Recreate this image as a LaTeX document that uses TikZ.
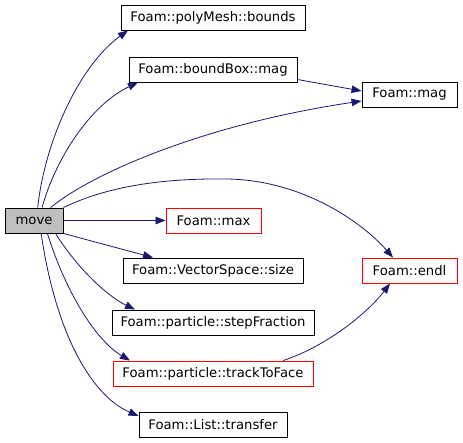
\documentclass[tikz,border=0pt]{standalone}
\usepackage{fontspec}
\setmainfont{DejaVu Sans}
\usepackage{tikz}
\usetikzlibrary{arrows.meta}
\definecolor{edgeblue}{RGB}{25,25,112}
\definecolor{curgray}{RGB}{191,191,191}
\definecolor{linkred}{RGB}{255,0,0}
\tikzset{
  fn/.style={rectangle, draw=black, fill=white, minimum height=25pt,
    inner xsep=2pt, font=\fontsize{13.2}{15}\selectfont, line width=0.9pt},
  redfn/.style={fn, draw=linkred},
  curfn/.style={fn, fill=curgray},
  call/.style={-{Triangle[length=10pt,width=7.5pt]}, color=edgeblue, line width=0.8pt}
}

\begin{document}
\begin{tikzpicture}[x=1pt, y=-1pt]
  \useasboundingbox (0,0) rectangle (463,443);

  % Caller
  \node[curfn, minimum width=58pt] (move) at (34,220.5) {move};

  % First column of callees
  \node[fn, minimum width=184pt] (bounds) at (213,17.5) {Foam::polyMesh::bounds};
  \node[fn, minimum width=168pt] (bbmag) at (213,69.5) {Foam::boundBox::mag};
  \node[redfn, minimum width=95pt] (max) at (213.5,220.5) {Foam::max};
  \node[fn, minimum width=180pt] (vsize) at (213,270.5) {Foam::VectorSpace::size};
  \node[fn, minimum width=202pt] (stepfrac) at (213,322.5) {Foam::particle::stepFraction};
  \node[redfn, minimum width=200pt] (track) at (213,373.5) {Foam::particle::trackToFace};
  \node[fn, minimum width=148pt] (transfer) at (213,424.5) {Foam::List::transfer};

  % Second column of callees
  \node[fn, minimum width=95pt] (mag) at (409.5,94.5) {Foam::mag};
  \node[redfn, minimum width=95pt] (endl) at (409.5,270.5) {Foam::endl};

  % Calls out of move
  \draw[call] (move.74) .. controls (45,140) and (80,65) .. ([xshift=-85pt]bounds.south);
  \draw[call] (move.58) .. controls (55,160) and (90,105) .. ([xshift=-75pt]bbmag.south);
  \draw[call] (move.38) .. controls (90,175) and (200,125) .. ([yshift=-6.5pt]mag.west);
  \draw[call] (move.north east) .. controls (100,190) and (150,178) .. (227,179)
    .. controls (300,180) and (360,220) .. ([xshift=-16.5pt]endl.north);
  \draw[call] (move.east) -- (max.west);
  \draw[call] (move.south east) -- ([xshift=-60pt]vsize.north);
  \draw[call] (move.-31) .. controls (75,265) and (105,295) .. ([xshift=-78pt]stepfrac.north);
  \draw[call] (move.-44) .. controls (65,290) and (95,340) .. ([xshift=-83pt]track.north);
  \draw[call] (move.-61) .. controls (55,330) and (90,395) .. ([yshift=8.5pt]transfer.west);

  % Calls between callees
  \draw[call] ([yshift=-10pt]bbmag.east) -- ([yshift=3.5pt]mag.west);
  \draw[call] ([xshift=70pt]track.north) .. controls (330,345) and (370,310) .. ([xshift=-19.5pt]endl.south);
\end{tikzpicture}
\end{document}
